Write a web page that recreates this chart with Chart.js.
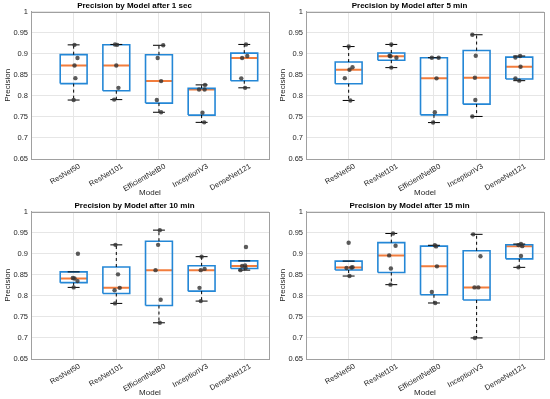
<!DOCTYPE html>
<html>
<head>
<meta charset="utf-8">
<script src="https://cdn.jsdelivr.net/npm/chart.js@4.4.0/dist/chart.umd.min.js"></script>
<style>
  body { margin: 0; background: #fff; width: 550px; height: 399px; overflow: hidden; position: relative; }
  .panel { position: absolute; width: 275px; height: 200px; }
</style>
</head>
<body>
<div class="panel" style="left:0;top:0"><canvas id="c0" width="275" height="200"></canvas></div>
<div class="panel" style="left:275px;top:0"><canvas id="c1" width="275" height="200"></canvas></div>
<div class="panel" style="left:0;top:200px"><canvas id="c2" width="275" height="200"></canvas></div>
<div class="panel" style="left:275px;top:200px"><canvas id="c3" width="275" height="200"></canvas></div>
<script>
const models = ["ResNet50", "ResNet101", "EfficientNetB0", "InceptionV3", "DenseNet121"];
const titles = [
  "Precision by Model after 1 sec",
  "Precision by Model after 5 min",
  "Precision by Model after 10 min",
  "Precision by Model after 15 min",
];
const yMin = 0.65;
const yMax = 1;
const yStep = 0.05;
const xMin = 0;
const xMax = 5.58;

// precision of each fold, per model
const precision1sec = [
  [0.921, 0.89, 0.872, 0.842, 0.79],
  [0.922, 0.921, 0.872, 0.819, 0.791],
  [0.92, 0.89, 0.835, 0.79, 0.761],
  [0.826, 0.815, 0.815, 0.76, 0.737],
  [0.922, 0.8945, 0.89, 0.8415, 0.819],
];
const precision5min = [
  [0.917, 0.868, 0.862, 0.842, 0.789],
  [0.922, 0.895, 0.894, 0.8905, 0.867],
  [0.8905, 0.8905, 0.8415, 0.761, 0.7365],
  [0.945, 0.895, 0.843, 0.79, 0.751],
  [0.8945, 0.891, 0.869, 0.8415, 0.836],
];
const precision10min = [
  [0.9, 0.8425, 0.841, 0.835, 0.82],
  [0.921, 0.851, 0.819, 0.8134, 0.782],
  [0.956, 0.921, 0.861, 0.7906, 0.736],
  [0.893, 0.864, 0.861, 0.819, 0.7875],
  [0.916, 0.872, 0.871, 0.866, 0.861],
];
const precision15min = [
  [0.926, 0.868, 0.867, 0.866, 0.847],
  [0.948, 0.919, 0.896, 0.865, 0.8265],
  [0.92, 0.9174, 0.87, 0.809, 0.783],
  [0.946, 0.894, 0.82, 0.82, 0.7],
  [0.923, 0.9205, 0.918, 0.8945, 0.8676],
];

// horizontal jitter of the scatter points (category units)
const jitter1sec = [
  [0.02, 0.09, 0.02, 0.04, 0],
  [-0.03, 0.02, 0, 0.05, -0.05],
  [0.1, -0.03, 0.05, -0.05, 0.05],
  [0.08, -0.06, 0.07, 0.02, 0.06],
  [0.04, 0.07, -0.05, -0.07, 0.02],
];
const jitter5min = [
  [0, 0.09, 0.02, -0.09, 0.04],
  [0, -0.04, -0.02, 0.12, 0],
  [-0.05, 0.11, 0.06, 0.02, -0.02],
  [-0.1, -0.02, -0.04, -0.03, -0.1],
  [0.02, -0.09, 0.03, -0.09, 0],
];
const jitter10min = [
  [0.1, -0.02, 0.02, 0.09, 0],
  [-0.02, 0.04, 0.08, -0.04, -0.03],
  [0.02, -0.02, -0.08, 0.04, 0.02],
  [0, 0.07, -0.02, -0.05, -0.02],
  [0.04, 0.02, -0.05, 0.03, -0.09],
];
const jitter15min = [
  [0, 0.09, 0.06, -0.05, 0.02],
  [0.04, 0.1, -0.05, -0.01, -0.02],
  [0.02, 0.05, 0.07, -0.05, 0.03],
  [-0.08, 0.09, 0.04, -0.05, -0.04],
  [0.04, -0.02, 0.07, 0.04, -0.02],
];

const allPrecision = [precision1sec, precision5min, precision10min, precision15min];
const allJitter = [jitter1sec, jitter5min, jitter10min, jitter15min];

const FONT = "'Liberation Sans', Arial, Helvetica, sans-serif";
const BOX_BLUE = "#2487d6";
const MEDIAN_ORANGE = "#f27d3d";
const BOX_W = 0.315;
const CAP_W = 0.14;

// MATLAB style percentile (linear interpolation between (i-0.5)/n positions)
function prctile(sorted, p) {
  const n = sorted.length;
  const pos = p * n - 0.5;
  if (pos <= 0) return sorted[0];
  if (pos >= n - 1) return sorted[n - 1];
  const lo = Math.floor(pos);
  return sorted[lo] + (pos - lo) * (sorted[lo + 1] - sorted[lo]);
}

function segment(color, width, dash, pts) {
  return {
    data: pts,
    showLine: true,
    borderColor: color,
    borderWidth: width,
    borderDash: dash,
    pointRadius: 0,
    fill: false,
    order: 1,
  };
}

function buildDatasets(values, jitter) {
  const sets = [];
  const points = [];
  values.forEach((vals, i) => {
    const x = i + 1;
    const s = [...vals].sort((a, b) => a - b);
    const q1 = prctile(s, 0.25);
    const med = prctile(s, 0.5);
    const q3 = prctile(s, 0.75);
    const iqr = q3 - q1;
    let hi = Math.max(...s.filter((v) => v <= q3 + 1.5 * iqr));
    let lo = Math.min(...s.filter((v) => v >= q1 - 1.5 * iqr));
    hi = Math.max(hi, q3);
    lo = Math.min(lo, q1);

    sets.push(segment("#000", 1, [3, 3], [{ x: x, y: q3 }, { x: x, y: hi }]));
    sets.push(segment("#000", 1, [3, 3], [{ x: x, y: q1 }, { x: x, y: lo }]));
    sets.push(segment("#000", 1, [], [{ x: x - CAP_W, y: hi }, { x: x + CAP_W, y: hi }]));
    sets.push(segment("#000", 1, [], [{ x: x - CAP_W, y: lo }, { x: x + CAP_W, y: lo }]));
    sets.push(segment(BOX_BLUE, 1.6, [], [
      { x: x - BOX_W, y: q1 }, { x: x + BOX_W, y: q1 },
      { x: x + BOX_W, y: q3 }, { x: x - BOX_W, y: q3 }, { x: x - BOX_W, y: q1 },
    ]));
    sets.push(segment(MEDIAN_ORANGE, 2, [], [{ x: x - BOX_W, y: med }, { x: x + BOX_W, y: med }]));

    vals.forEach((v, k) => points.push({ x: x + jitter[i][k], y: v }));
  });
  sets.unshift({
    data: points,
    pointRadius: 2.2,
    pointBackgroundColor: "rgba(50,50,50,0.8)",
    pointBorderWidth: 0,
    showLine: false,
    order: 0,
  });
  return sets;
}

// draws the full frame around the plot area
const frame = {
  id: "frame",
  afterDraw(chart) {
    const a = chart.chartArea;
    const ctx = chart.ctx;
    ctx.save();
    ctx.strokeStyle = "#a0a0a0";
    ctx.lineWidth = 1;
    ctx.strokeRect(Math.round(a.left) + 0.5, Math.round(a.top) + 0.5,
      Math.round(a.right - a.left), Math.round(a.bottom - a.top));
    ctx.restore();
  },
};

titles.forEach((title, n) => {
  new Chart(document.getElementById("c" + n), {
    type: "scatter",
    data: { datasets: buildDatasets(allPrecision[n], allJitter[n]) },
    plugins: [frame],
    options: {
      responsive: false,
      animation: false,
      layout: { padding: { left: 0, right: 6, top: 0, bottom: 0 } },
      plugins: {
        legend: { display: false },
        tooltip: { enabled: false },
        title: {
          display: true,
          text: title,
          color: "#000",
          font: { family: FONT, size: 8, weight: "bold" },
          padding: { top: 1, bottom: 1 },
        },
      },
      scales: {
        x: {
          type: "linear",
          min: xMin,
          max: xMax,
          afterBuildTicks: (s) => { s.ticks = models.map((m, i) => ({ value: i + 1 })); },
          afterFit: (s) => { s.height = 41; },
          ticks: {
            callback: (v, i) => models[i],
            minRotation: 30,
            maxRotation: 30,
            labelOffset: 6,
            color: "#262626",
            font: { family: FONT, size: 7.5 },
            padding: 3,
          },
          grid: { color: "#e6e6e6", drawTicks: false },
          border: { color: "#a0a0a0" },
          title: {
            display: true,
            text: "Model",
            color: "#262626",
            font: { family: FONT, size: 8 },
            padding: { top: 0, bottom: 2 },
          },
        },
        y: {
          min: yMin,
          max: yMax,
          afterFit: (s) => { s.width = 31; },
          ticks: {
            stepSize: yStep,
            callback: (v) => String(+v.toFixed(2)),
            color: "#262626",
            font: { family: FONT, size: 7.5 },
            padding: 3,
          },
          grid: { color: "#e6e6e6", drawTicks: false },
          border: { color: "#a0a0a0" },
          title: {
            display: true,
            text: "Precision",
            color: "#262626",
            font: { family: FONT, size: 8 },
            padding: { top: 3, bottom: 0 },
          },
        },
      },
    },
  });
});
</script>
</body>
</html>
